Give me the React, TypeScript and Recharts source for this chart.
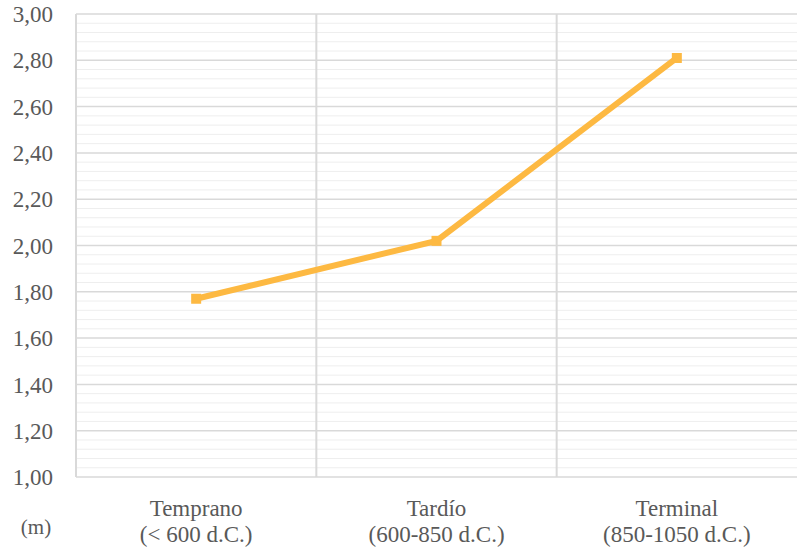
import React from "react"
import { LineChart, Line, XAxis, YAxis, ReferenceLine } from "recharts"

// Period names and their date ranges (second line of each x label)
const periods = ["Temprano", "Tardío", "Terminal"]
const periodRanges = ["(< 600 d.C.)", "(600-850 d.C.)", "(850-1050 d.C.)"]
// Mean height in metres for each period
const heights = [1.77, 2.02, 2.81]

const yTicks = [1, 1.2, 1.4, 1.6, 1.8, 2, 2.2, 2.4, 2.6, 2.8, 3]

// light sub-grid every 0.04 m
const minorLines: number[] = []
for (let i = 0; i <= 50; i++) {
  const v = Math.round((1 + i * 0.04) * 100) / 100
  if (Math.round(v * 100) % 20 !== 0) minorLines.push(v)
}

const data = periods.map((name, i) => ({ pos: i + 0.5, name, height: heights[i] }))

const lineColor = "#FDB942"
const gridMajor = "#d9d9d9"
const gridMinor = "#eeeeee"
const textColor = "#595959"
const fontFamily = "'Liberation Serif', 'Times New Roman', serif"

const formatY = (v: number) => v.toFixed(2).replace(".", ",")

function PeriodTick(props: any) {
  const { x, y, payload } = props
  const i = Math.floor(payload.value)
  return (
    <g transform={`translate(${x},${y})`}>
      <text textAnchor="middle" fill={textColor} fontSize={23} fontFamily={fontFamily}>
        <tspan x={0} y={37}>{periods[i]}</tspan>
        <tspan x={0} y={63}>{periodRanges[i]}</tspan>
      </text>
    </g>
  )
}

function SquareDot(props: any) {
  const { cx, cy } = props
  if (cx == null || cy == null) return null
  return <rect x={cx - 5} y={cy - 5} width={10} height={10} fill={lineColor} />
}

export default function App() {
  return (
    <div style={{ position: "absolute", left: 0, top: 0, width: 798, height: 547, background: "#fff" }}>
      <LineChart width={798} height={547} data={data} margin={{ top: 14, right: 1, left: 0, bottom: 0 }}>
        <XAxis
          dataKey="pos"
          type="number"
          domain={[0, 3]}
          ticks={[0.5, 1.5, 2.5]}
          axisLine={false}
          tickLine={false}
          tickSize={0}
          height={70}
          tick={<PeriodTick />}
          interval={0}
        />
        <YAxis
          domain={[1, 3]}
          ticks={yTicks}
          tickFormatter={formatY}
          width={76}
          axisLine={false}
          tickLine={false}
          tickSize={0}
          tickMargin={23}
          interval={0}
          tick={{ fill: textColor, fontSize: 23, fontFamily }}
        />
        {minorLines.map((v) => (
          <ReferenceLine key={`m${v}`} y={v} stroke={gridMinor} strokeWidth={1} />
        ))}
        {yTicks.map((v) => (
          <ReferenceLine key={`M${v}`} y={v} stroke={gridMajor} strokeWidth={1.5} />
        ))}
        {[0, 1, 2].map((v) => (
          <ReferenceLine key={`v${v}`} x={v} stroke={gridMajor} strokeWidth={2} />
        ))}
        <Line
          dataKey="height"
          stroke={lineColor}
          strokeWidth={6}
          dot={<SquareDot />}
          activeDot={false}
          isAnimationActive={false}
        />
      </LineChart>
      {/* unit label under the value axis */}
      <svg width={70} height={40} style={{ position: "absolute", left: 0, top: 507 }}>
        <text x={36} y={27} textAnchor="middle" fill={textColor} fontSize={21} fontFamily={fontFamily}>
          (m)
        </text>
      </svg>
    </div>
  )
}
